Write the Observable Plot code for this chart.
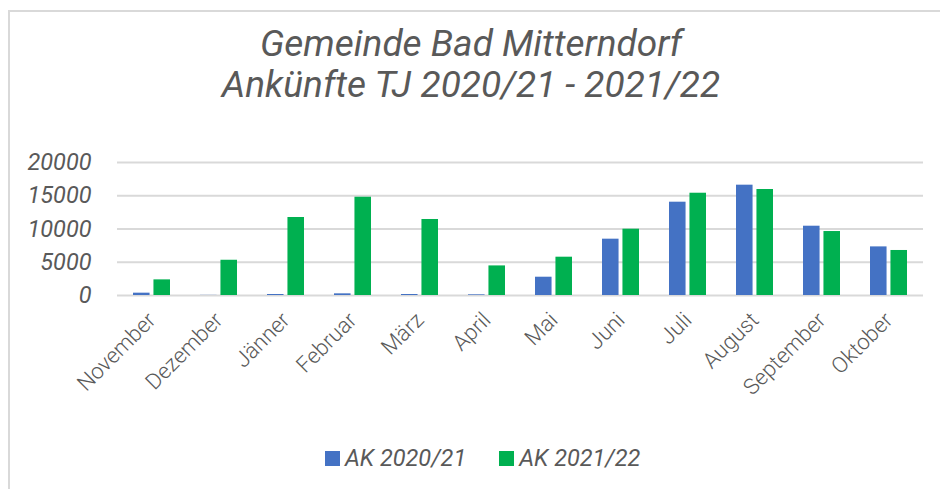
<!DOCTYPE html>
<html>
<head>
<meta charset="utf-8">
<script src="https://cdn.jsdelivr.net/npm/d3@7"></script>
<script src="https://cdn.jsdelivr.net/npm/@observablehq/plot@0.6"></script>
<style>
  html, body { margin: 0; padding: 0; background: #fff; width: 940px; height: 489px; overflow: hidden; }
  #frame { position: absolute; left: 8px; top: 10px; width: 960px; height: 500px;
           border-left: 2px solid #d9d9d9; border-top: 2px solid #d9d9d9; box-sizing: border-box; }
  #title { position: absolute; left: 0; width: 942px; top: 23px; text-align: center;
           font-family: Roboto, sans-serif; font-style: italic; font-size: 37px; line-height: 41px; color: #595959; }
  #chart { position: absolute; left: 0; top: 140px; }
  #legend { position: absolute; top: 444px; left: 325px; display: flex; gap: 33px;
            font-family: Roboto, sans-serif; font-style: italic; font-size: 23.5px; color: #595959; }
  .item { display: flex; align-items: center; gap: 5px; }
  .sw { width: 15px; height: 15px; display: inline-block; }
</style>
</head>
<body>
<div id="frame"></div>
<div id="title">Gemeinde Bad Mitterndorf<br>Ankünfte TJ 2020/21 - 2021/22</div>
<div id="chart"></div>
<div id="legend"></div>
<script>
const months = ["November","Dezember","Jänner","Februar","März","April","Mai","Juni","Juli","August","September","Oktober"];
const seriesNames = ["AK 2020/21", "AK 2021/22"];
const ak2021 = [350, 20, 150, 250, 150, 100, 2750, 8470, 14030, 16590, 10420, 7310];
const ak2122 = [2350, 5300, 11730, 14780, 11430, 4450, 5760, 9970, 15380, 15940, 9620, 6770];
const yTicks = [0, 5000, 10000, 15000, 20000];
const colors = ["#4472C4", "#00B050"];

const rows = [];
months.forEach((m, i) => {
  rows.push({month: m, series: seriesNames[0], value: ak2021[i]});
  rows.push({month: m, series: seriesNames[1], value: ak2122[i]});
});

const half = 36.9 / 2;
const gap = 2;

const chart = Plot.plot({
  width: 940,
  height: 290,
  marginLeft: 117,
  marginRight: 17,
  marginTop: 22,
  marginBottom: 135,
  style: {fontFamily: "Roboto, sans-serif", color: "#595959", background: "transparent"},
  x: {domain: months, paddingInner: 0.45, paddingOuter: 0.225, label: null},
  y: {domain: [0, 20000], label: null},
  color: {domain: seriesNames, range: colors},
  marks: [
    Plot.ruleY(yTicks, {stroke: "#d9d9d9", strokeWidth: 2}),
    Plot.barY(rows.filter(d => d.series === seriesNames[0]), {x: "month", y: "value", fill: "series", insetRight: half + gap, insetLeft: 0}),
    Plot.barY(rows.filter(d => d.series === seriesNames[1]), {x: "month", y: "value", fill: "series", insetLeft: half + gap, insetRight: 0}),
    Plot.axisY({ticks: yTicks, tickSize: 0, tickPadding: 26, tickFormat: d => String(d),
      fontSize: 23.5, fontStyle: "italic", fill: "#595959"}),
    Plot.axisX({tickSize: 0, tickRotate: -45, tickPadding: 21, fontSize: 22, fontWeight: 300, fill: "#595959"})
  ]
});
document.getElementById("chart").appendChild(chart);

const legend = document.getElementById("legend");
seriesNames.forEach((s, i) => {
  const it = document.createElement("div");
  it.className = "item";
  const sw = document.createElement("span");
  sw.className = "sw";
  sw.style.background = colors[i];
  const tx = document.createElement("span");
  tx.textContent = s;
  it.appendChild(sw); it.appendChild(tx);
  legend.appendChild(it);
});
</script>
</body>
</html>
